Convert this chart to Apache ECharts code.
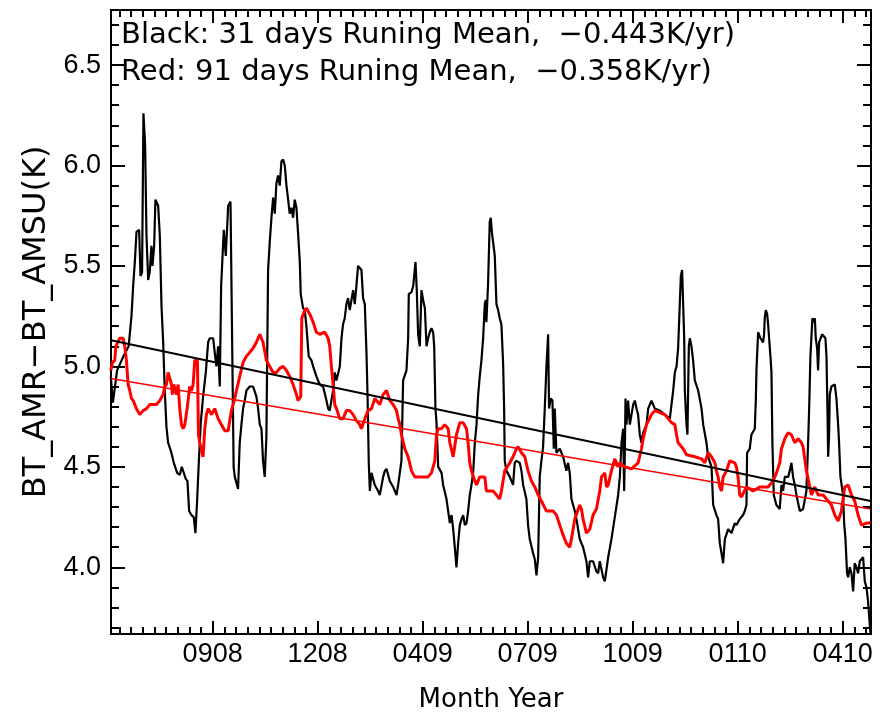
<!DOCTYPE html>
<html><head><meta charset="utf-8">
<script src="https://cdn.jsdelivr.net/npm/echarts@6/dist/echarts.min.js"></script>
<style>html,body{margin:0;padding:0;background:#fff}#c{width:880px;height:717px}</style>
</head><body><div id="c"></div>
<script>
// x is days since the start of the record; tick labels are Month-Year (MMYY)
const xTickDays = [100, 200, 300, 400, 500, 600, 700];
const xTickLabels = ['0908', '1208', '0409', '0709', '1009', '0110', '0410'];
const yTickValues = [4.0, 4.5, 5.0, 5.5, 6.0, 6.5];
const xRange = [3.2, 727];
const yRange = [3.668, 6.774];

const black31 = [[3,4.95],[5,4.82],[9,4.98],[15,5.05],[20,5.1],[22.7,5.25],[24.3,5.4],[25.9,5.52],[27.5,5.67],[30,5.68],[31.3,5.45],[32.8,5.47],[34.1,6.26],[35.7,6.1],[37,5.65],[38.6,5.43],[40.1,5.47],[41.7,5.6],[42.7,5.5],[44.3,5.6],[45.5,5.83],[48.1,5.8],[49.7,5.65],[51.3,5.3],[52.9,5.12],[54.4,4.88],[56,4.7],[57.6,4.62],[60.2,4.58],[63,4.52],[66.2,4.47],[68.7,4.46],[70.6,4.5],[72.5,4.5],[74.4,4.44],[76,4.43],[77.6,4.28],[79.8,4.26],[82,4.25],[83.6,4.17],[85.2,4.33],[86.8,4.52],[88.7,4.72],[90.9,4.85],[93.5,4.97],[95.7,5.12],[97.3,5.14],[100.5,5.14],[102.4,5.05],[103.6,5.0],[105.2,5.1],[106.8,4.9],[108.1,5.4],[109.4,5.4],[110.6,5.68],[112.5,5.55],[114.8,5.8],[117,5.82],[118.5,5.82],[120,4.5],[121.1,4.45],[124.2,4.39],[125.8,4.62],[127.4,4.71],[129,4.79],[130.6,4.83],[132.2,4.88],[135.3,4.9],[138.5,4.9],[141.7,4.85],[143.3,4.79],[144.9,4.71],[146.5,4.69],[148,4.53],[149.6,4.45],[151.2,4.65],[152.8,5.48],[154.4,5.62],[156,5.74],[157.6,5.84],[159.2,5.76],[160.7,5.91],[162.3,5.95],[163.9,5.9],[165.5,6.02],[167.1,6.03],[168.7,6.0],[170.3,5.9],[171.9,5.83],[173.4,5.76],[175,5.79],[176.6,5.74],[178.2,5.83],[179.8,5.79],[181.4,5.66],[183,5.52],[183.9,5.36],[186.1,5.29],[187.7,5.28],[189.3,5.2],[191.5,5.05],[194.1,5.03],[195.7,5.0],[198.8,4.95],[202,4.91],[205.2,4.9],[208.4,4.83],[210,4.79],[211.5,4.78],[213.1,4.78],[214.7,4.88],[216.3,4.97],[217.9,4.93],[221.1,5.0],[222.7,5.14],[224.2,5.21],[225.8,5.24],[227.4,5.31],[229,5.34],[230.6,5.28],[232.2,5.33],[233.8,5.38],[235.3,5.31],[236.9,5.4],[238.5,5.5],[240.2,5.5],[241.7,5.48],[243.3,5.34],[244.9,5.31],[246.5,5.07],[247.5,4.86],[248.7,4.52],[249.7,4.38],[251.3,4.47],[254.4,4.41],[257.6,4.38],[259.2,4.36],[262.4,4.45],[264,4.48],[265.6,4.49],[268.7,4.43],[271.9,4.4],[275.1,4.36],[276.7,4.41],[279.8,4.53],[281.4,4.93],[284.6,4.98],[286.2,5.14],[286.8,5.36],[289.4,5.37],[291,5.4],[293.2,5.52],[294.4,5.38],[295.7,5.16],[297.3,5.1],[298.9,5.38],[300.5,5.33],[302.1,5.29],[303.7,5.1],[305.2,5.14],[306.8,5.17],[308.4,5.19],[310,5.17],[311,5.1],[312.2,4.79],[313.2,4.72],[314.8,4.5],[318,4.47],[319.5,4.41],[322.7,4.34],[324.3,4.28],[325.9,4.22],[327.5,4.26],[329.1,4.19],[330.6,4.1],[332.2,4.0],[333.8,4.12],[335.4,4.21],[337,4.24],[338.6,4.26],[340.2,4.21],[341.8,4.22],[343.3,4.28],[344.9,4.36],[346.5,4.41],[348.1,4.47],[349.7,4.62],[351.3,4.71],[352.9,4.86],[354.4,4.95],[356,5.03],[357.6,5.14],[359.2,5.31],[360.1,5.33],[360.7,5.22],[362.3,5.41],[363.9,5.72],[364.9,5.74],[366.1,5.66],[367.1,5.62],[368.7,5.55],[370.3,5.31],[371.9,5.28],[373.4,5.24],[375,5.21],[376.6,5.02],[377.6,4.79],[378.2,4.53],[379.8,4.48],[383,4.45],[386.1,4.41],[387.7,4.52],[389.3,4.53],[392.5,4.52],[394.1,4.48],[395.7,4.41],[398.8,4.34],[400.4,4.21],[402,4.14],[405.2,4.07],[406.8,4.04],[408.4,3.96],[410,4.05],[411.5,4.45],[413.1,4.53],[414.7,4.6],[416.3,4.79],[417.9,5.0],[419.5,5.16],[420.4,4.79],[422,4.84],[423.6,4.83],[424.9,4.59],[425.8,4.79],[427.4,4.57],[430.6,4.59],[433.8,4.55],[436.9,4.48],[438.5,4.52],[440.1,4.47],[441.7,4.34],[444.9,4.28],[446.5,4.24],[449.6,4.14],[452.8,4.1],[456,4.03],[457.6,3.95],[459.2,4.03],[462.3,4.03],[465.5,3.98],[467.1,3.97],[468.7,4.03],[471.9,3.95],[473.5,3.93],[476.7,4.05],[479.8,4.14],[483,4.25],[486.2,4.36],[487.8,4.45],[489.4,4.62],[491,4.69],[491.9,4.38],[492.5,4.55],[493.2,4.84],[494.1,4.71],[495.7,4.83],[497.3,4.71],[500.5,4.81],[502.1,4.83],[503.7,4.79],[505.2,4.76],[506.8,4.66],[508.4,4.62],[510,4.67],[513.2,4.71],[514.8,4.79],[517.9,4.83],[521.1,4.79],[525.9,4.78],[530.6,4.76],[535.4,4.74],[537,4.74],[538.6,4.88],[540.2,4.97],[541.8,5.0],[543.3,5.09],[544.9,5.31],[545.9,5.45],[547.1,5.48],[548.1,5.31],[549.1,5.14],[549.7,4.88],[551.3,4.71],[552.2,4.66],[553.5,5.1],[554.5,5.14],[556,5.1],[557.6,5.03],[559.2,4.93],[562.4,4.88],[565.6,4.79],[567.2,4.71],[570.3,4.62],[571.9,4.55],[575.1,4.5],[576.7,4.31],[579.8,4.26],[581.4,4.24],[583,4.12],[586.2,4.02],[587.8,4.14],[591,4.19],[594.1,4.17],[597.3,4.22],[598.8,4.21],[602,4.24],[605.2,4.26],[606.8,4.28],[608.4,4.31],[609,4.57],[611.5,4.59],[613.1,4.66],[616.3,4.69],[617.3,4.83],[617.9,4.98],[619.5,5.17],[621.7,5.14],[624.2,5.12],[625.2,5.16],[625.8,5.24],[626.8,5.28],[628.1,5.26],[629,5.21],[630.6,5.21],[631.5,5.03],[632.2,4.97],[633.1,4.62],[634.4,4.36],[636.9,4.31],[640.1,4.29],[641.7,4.41],[643.3,4.38],[644.9,4.45],[648.1,4.45],[649.6,4.48],[651.2,4.52],[652.8,4.45],[654.4,4.41],[656,4.36],[659.2,4.28],[662.3,4.29],[665.5,4.38],[667.1,4.62],[668.1,4.79],[669.3,5.05],[671.2,5.24],[672.5,5.22],[673.5,5.24],[674.4,5.14],[675.7,5.09],[676.6,4.98],[677.6,5.12],[680.4,5.16],[682,5.16],[683.6,5.14],[684.6,5.05],[685.5,4.79],[686.2,4.55],[687.1,4.66],[687.7,4.86],[689.3,4.9],[692.5,4.91],[694.1,4.84],[695.7,4.71],[696.6,4.62],[697.9,4.45],[700.4,4.36],[701.4,4.22],[702.7,4.14],[704.2,3.97],[705.2,3.95],[706.8,4.0],[708.4,3.97],[710,3.88],[711.5,4.02],[713.1,4.0],[714.7,3.97],[716.3,4.03],[719.5,4.05],[721.1,3.93],[722.7,3.9],[724.2,3.83],[725.2,3.76],[726.5,3.67]];

const red91 = [[3,4.98],[4.6,5.02],[6.8,5.03],[7.8,5.1],[11.6,5.14],[14.8,5.14],[16.3,5.1],[17.9,5.03],[19.5,4.91],[21.1,4.88],[22.7,4.84],[24.3,4.83],[27.4,4.79],[30.6,4.76],[33.8,4.78],[37,4.79],[40.2,4.81],[46.5,4.81],[49.7,4.83],[52.9,4.86],[54.4,4.9],[56,4.91],[57.6,4.97],[59.2,4.97],[60.8,4.91],[61.7,4.86],[63,4.91],[65.5,4.86],[67.1,4.91],[68.7,4.79],[70.3,4.71],[71.9,4.69],[73.5,4.71],[75.7,4.79],[78.2,4.9],[79.8,4.88],[81.4,4.91],[83,5.03],[85.5,5.03],[86.5,4.66],[87.8,4.62],[90.9,4.55],[92.5,4.69],[94.1,4.76],[95.7,4.79],[98.9,4.76],[102,4.79],[105.2,4.74],[108.4,4.71],[111.6,4.68],[114.8,4.68],[117.9,4.78],[121.1,4.84],[122.7,4.88],[125.8,4.95],[129,5.02],[132.2,5.05],[135.3,5.07],[138.5,5.09],[141.7,5.12],[144.9,5.16],[146.5,5.16],[148,5.12],[151.2,5.03],[154.4,5.0],[157.6,4.97],[160.7,4.97],[163.9,4.99],[167.1,5.0],[170.3,4.98],[173.4,4.95],[176.6,4.91],[179.8,4.86],[181.4,4.83],[183,4.83],[183.9,4.85],[184.9,5.24],[187.7,5.28],[189.3,5.29],[192.5,5.26],[195.7,5.22],[198.8,5.17],[202,5.16],[206.8,5.17],[210,5.14],[211.5,5.1],[213.1,5.0],[214.7,4.91],[216.3,4.81],[217.9,4.79],[221.1,4.74],[224.2,4.74],[227.4,4.78],[230.6,4.78],[233.8,4.76],[236.9,4.73],[240.2,4.71],[241.7,4.69],[244.9,4.74],[248.1,4.78],[251.3,4.79],[254.4,4.84],[259.2,4.81],[262.4,4.86],[265.6,4.88],[268.7,4.83],[271.9,4.81],[275.1,4.78],[276.7,4.74],[278.3,4.71],[279.8,4.66],[283,4.59],[286.2,4.55],[289.4,4.48],[292.5,4.45],[298.9,4.45],[305.2,4.45],[308.4,4.47],[311.6,4.53],[313.2,4.66],[314.8,4.69],[318,4.69],[321.1,4.71],[324.3,4.69],[325.9,4.62],[329.1,4.55],[332.2,4.66],[335.4,4.72],[338.6,4.72],[341.8,4.69],[343.3,4.62],[344.9,4.52],[346.5,4.48],[349.7,4.43],[351.3,4.41],[354.4,4.45],[359.2,4.45],[360.7,4.38],[367.1,4.38],[373.4,4.34],[375,4.38],[376.6,4.43],[378.2,4.48],[383,4.52],[386.1,4.55],[389.3,4.59],[390.9,4.6],[394.1,4.57],[397.3,4.55],[400.4,4.48],[403.6,4.43],[406.8,4.4],[410,4.36],[413.1,4.33],[417.9,4.28],[424.2,4.28],[427.4,4.26],[430.6,4.21],[433.8,4.16],[436.9,4.12],[440.1,4.1],[441.7,4.14],[443.3,4.19],[444.9,4.24],[449.6,4.31],[451.2,4.29],[452.8,4.24],[456,4.17],[459.2,4.19],[462.3,4.26],[465.5,4.29],[468.7,4.38],[470.3,4.45],[473.5,4.47],[475.1,4.4],[476.7,4.41],[479.8,4.48],[483,4.54],[486.2,4.5],[487.8,4.52],[492.5,4.5],[498.9,4.49],[505.2,4.52],[508.4,4.59],[510,4.64],[513.2,4.71],[517.9,4.76],[521.1,4.78],[525.9,4.77],[530.6,4.76],[533.8,4.74],[537,4.72],[540.2,4.71],[541.8,4.66],[543.3,4.62],[548.1,4.59],[551.3,4.56],[559.2,4.55],[565.6,4.54],[568.7,4.52],[571.9,4.57],[575.1,4.55],[578.3,4.52],[579.8,4.48],[581.4,4.45],[583,4.4],[584.6,4.38],[586.2,4.45],[589.4,4.48],[592.5,4.53],[597.3,4.52],[598.8,4.5],[600.4,4.45],[602,4.36],[603.6,4.35],[608.4,4.4],[614.7,4.38],[621.1,4.4],[629,4.4],[633.8,4.43],[637,4.47],[640.1,4.52],[641.7,4.59],[644.9,4.64],[648.1,4.67],[651.2,4.66],[654.4,4.62],[657.6,4.64],[660.8,4.62],[662.3,4.6],[665.5,4.48],[668.7,4.4],[670.3,4.36],[673.5,4.4],[676.6,4.36],[681.4,4.36],[686.2,4.33],[689.3,4.31],[692.5,4.26],[695.7,4.23],[698.8,4.28],[700.4,4.34],[702,4.4],[705.2,4.41],[708.4,4.36],[711.5,4.33],[714.7,4.26],[717.9,4.21],[722.7,4.22],[726.5,4.22]];

const blackTrend = [[3.2, 5.13], [726.5, 4.33]];
const redTrend = [[3.2, 4.94], [726.5, 4.29]];

const annotations = ['Black: 31 days Runing Mean,  \u22120.443K/yr)', 'Red: 91 days Runing Mean,  \u22120.358K/yr)'];

// minor tick positions (axis furniture)
const xMinor = [];
for (let k = 1; k * 100 / 9 <= xRange[1]; k++) { if (k % 9 !== 0 && k * 100 / 9 >= xRange[0]) xMinor.push(k * 100 / 9); }
const yMinor = [];
for (let k = 37; k <= 67; k++) { if (k % 5 !== 0) yMinor.push(k / 10); }

const FONT = 'Liberation Sans';
const WIDE = 'DejaVu Sans';
const frame = { show: true, onZero: false, lineStyle: { color: '#000', width: 2 } };
function xAx(pos, ticks, len, line, labels) {
  const a = { type: 'value', position: pos, min: xRange[0], max: xRange[1], gridIndex: 0,
    axisLine: line ? frame : { show: false },
    axisTick: { show: true, inside: true, length: len, customValues: ticks, lineStyle: { color: '#000', width: 2 } },
    axisLabel: { show: false }, splitLine: { show: false }, minorTick: { show: false } };
  if (labels) {
    a.axisLabel = { show: true, customValues: xTickDays, margin: 7, color: '#000', fontSize: 27, fontFamily: FONT,
      formatter: v => xTickLabels[xTickDays.indexOf(Math.round(v))] || '' };
    a.name = 'Month Year'; a.nameLocation = 'middle'; a.nameGap = 53;
    a.nameTextStyle = { color: '#000', fontSize: 26, fontFamily: WIDE };
  }
  return a;
}
function yAx(pos, ticks, len, line, labels) {
  const a = { type: 'value', position: pos, min: yRange[0], max: yRange[1], gridIndex: 0,
    axisLine: line ? frame : { show: false },
    axisTick: { show: true, inside: true, length: len, customValues: ticks, lineStyle: { color: '#000', width: 2 } },
    axisLabel: { show: false }, splitLine: { show: false }, minorTick: { show: false } };
  if (labels) {
    a.axisLabel = { show: true, customValues: yTickValues, margin: 10, color: '#000', fontSize: 27, fontFamily: FONT,
      formatter: v => v.toFixed(1) };
    a.name = 'BT_AMR\u2212BT_AMSU(K)'; a.nameLocation = 'middle'; a.nameGap = 57; a.nameRotate = 90;
    a.nameTextStyle = { color: '#000', fontSize: 32, fontFamily: WIDE };
  }
  return a;
}

const chart = echarts.init(document.getElementById('c'), null, { renderer: 'canvas' });
chart.setOption({
  animation: false,
  backgroundColor: '#fff',
  grid: { left: 111, right: 9, top: 10, bottom: 83, containLabel: false, outerBoundsMode: 'none' },
  xAxis: [xAx('bottom', xTickDays, 13, true, true), xAx('bottom', xMinor, 7, false, false),
          xAx('top', xTickDays, 13, true, false), xAx('top', xMinor, 7, false, false)],
  yAxis: [yAx('left', yTickValues, 14, true, true), yAx('left', yMinor, 8, false, false),
          yAx('right', yTickValues, 14, true, false), yAx('right', yMinor, 8, false, false)],
  series: [
    { type: 'line', data: black31, xAxisIndex: 0, yAxisIndex: 0, symbol: 'none', lineStyle: { color: '#000', width: 2.2 }, z: 2 },
    { type: 'line', data: red91, xAxisIndex: 0, yAxisIndex: 0, symbol: 'none', lineStyle: { color: '#ff0000', width: 3 }, z: 3 },
    { type: 'line', data: blackTrend, xAxisIndex: 0, yAxisIndex: 0, symbol: 'none', lineStyle: { color: '#000', width: 2 }, z: 4 },
    { type: 'line', data: redTrend, xAxisIndex: 0, yAxisIndex: 0, symbol: 'none', lineStyle: { color: '#ff0000', width: 1.6 }, z: 4 }
  ],
  graphic: [
    { type: 'text', left: 121, top: 21, style: { text: annotations[0], fill: '#000', font: '29px "DejaVu Sans"' } },
    { type: 'text', left: 121, top: 58, style: { text: annotations[1], fill: '#000', font: '29px "DejaVu Sans"' } }
  ]
});
</script>
</body></html>
